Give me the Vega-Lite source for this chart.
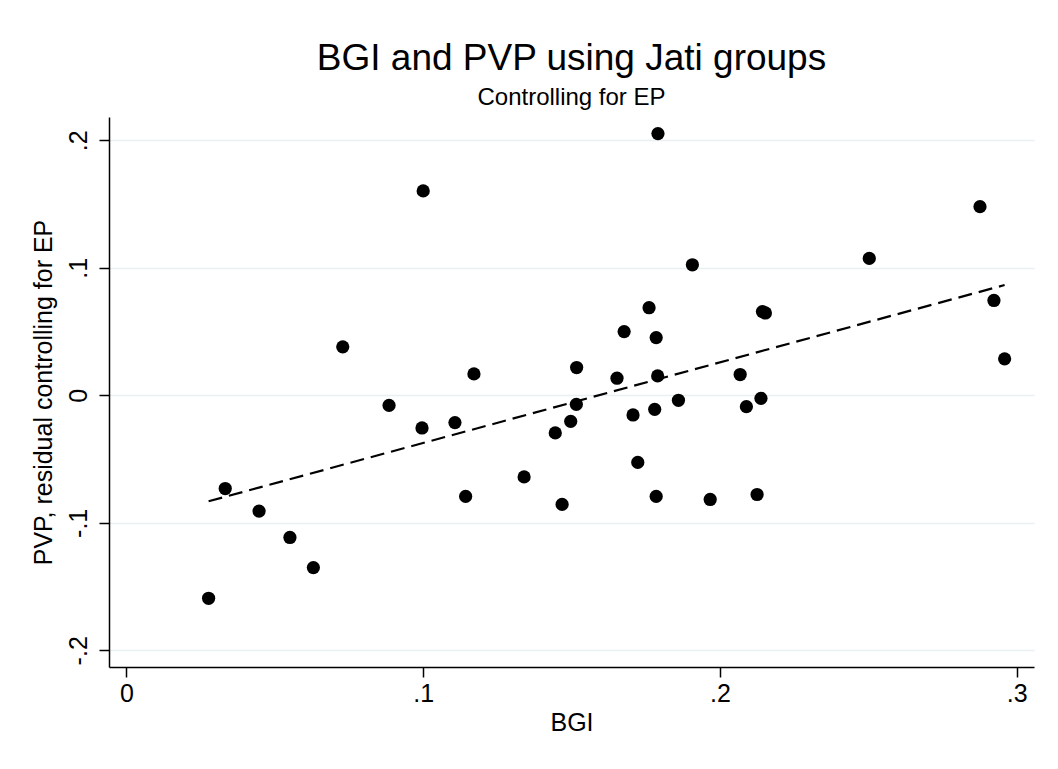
{
  "$schema": "https://vega.github.io/schema/vega-lite/v6.json",
  "width": 925,
  "height": 550,
  "autosize": {"type": "none"},
  "padding": {"left": 109, "top": 117, "right": 24, "bottom": 102},
  "background": "white",
  "config": {"font": "Liberation Sans", "view": {"stroke": null}},
  "title": {
    "text": "BGI and PVP using Jati groups",
    "subtitle": "Controlling for EP",
    "fontSize": 37,
    "fontWeight": "normal",
    "subtitleFontSize": 24,
    "color": "black",
    "subtitleColor": "black",
    "anchor": "middle",
    "offset": 6,
    "subtitlePadding": 8,
    "font": "Liberation Sans",
    "subtitleFont": "Liberation Sans"
  },
  "data": {
    "values": [
      {"bgi": 0.0277, "pvp": -0.1592},
      {"bgi": 0.0333, "pvp": -0.0731},
      {"bgi": 0.0447, "pvp": -0.0908},
      {"bgi": 0.0551, "pvp": -0.1115},
      {"bgi": 0.0630, "pvp": -0.1351},
      {"bgi": 0.0729, "pvp": 0.0380},
      {"bgi": 0.0885, "pvp": -0.0079},
      {"bgi": 0.0996, "pvp": -0.0256},
      {"bgi": 0.1000, "pvp": 0.1603},
      {"bgi": 0.1107, "pvp": -0.0214},
      {"bgi": 0.1143, "pvp": -0.0793},
      {"bgi": 0.1171, "pvp": 0.0168},
      {"bgi": 0.1340, "pvp": -0.0640},
      {"bgi": 0.1445, "pvp": -0.0295},
      {"bgi": 0.1468, "pvp": -0.0856},
      {"bgi": 0.1497, "pvp": -0.0204},
      {"bgi": 0.1516, "pvp": -0.0071},
      {"bgi": 0.1517, "pvp": 0.0218},
      {"bgi": 0.1653, "pvp": 0.0134},
      {"bgi": 0.1677, "pvp": 0.0500},
      {"bgi": 0.1707, "pvp": -0.0154},
      {"bgi": 0.1723, "pvp": -0.0526},
      {"bgi": 0.1761, "pvp": 0.0687},
      {"bgi": 0.1780, "pvp": -0.0110},
      {"bgi": 0.1785, "pvp": 0.0453},
      {"bgi": 0.1785, "pvp": -0.0793},
      {"bgi": 0.1790, "pvp": 0.0152},
      {"bgi": 0.1791, "pvp": 0.2053},
      {"bgi": 0.1860, "pvp": -0.0039},
      {"bgi": 0.1907, "pvp": 0.1024},
      {"bgi": 0.1967, "pvp": -0.0817},
      {"bgi": 0.2068, "pvp": 0.0163},
      {"bgi": 0.2089, "pvp": -0.0089},
      {"bgi": 0.2125, "pvp": -0.0778},
      {"bgi": 0.2138, "pvp": -0.0024},
      {"bgi": 0.2143, "pvp": 0.0657},
      {"bgi": 0.2153, "pvp": 0.0646},
      {"bgi": 0.2503, "pvp": 0.1074},
      {"bgi": 0.2876, "pvp": 0.1480},
      {"bgi": 0.2923, "pvp": 0.0744},
      {"bgi": 0.2959, "pvp": 0.0286}
    ]
  },
  "layer": [
    {
      "mark": {"type": "circle", "size": 175, "color": "black", "opacity": 1},
      "encoding": {
        "x": {
          "field": "bgi",
          "type": "quantitative",
          "title": "BGI",
          "scale": {"domain": [-0.00586, 0.3058], "nice": false, "zero": false},
          "axis": {
            "values": [0, 0.1, 0.2, 0.3],
            "labelExpr": "datum.value == 0 ? '0' : '.' + round(datum.value * 10)",
            "grid": false,
            "domainColor": "black",
            "domainWidth": 1.5,
            "tickColor": "black",
            "tickWidth": 1.5,
            "tickSize": 10,
            "labelFontSize": 25,
            "labelColor": "black",
            "labelPadding": 4,
            "labelFlush": false,
            "labelFont": "Liberation Sans",
            "titleFont": "Liberation Sans",
            "titleFontSize": 25,
            "titleFontWeight": "normal",
            "titleColor": "black",
            "titlePadding": 4
          }
        },
        "y": {
          "field": "pvp",
          "type": "quantitative",
          "title": "PVP, residual controlling for EP",
          "scale": {"domain": [-0.2131, 0.2183], "nice": false, "zero": false},
          "axis": {
            "values": [-0.2, -0.1, 0, 0.1, 0.2],
            "labelExpr": "datum.value == 0 ? '0' : (datum.value < 0 ? '-' : '') + '.' + round(abs(datum.value) * 10)",
            "grid": true,
            "gridColor": "#e8f0f2",
            "gridWidth": 1.5,
            "domainColor": "black",
            "domainWidth": 1.5,
            "tickColor": "black",
            "tickWidth": 1.5,
            "tickSize": 10,
            "labelAngle": -90,
            "labelFontSize": 25,
            "labelColor": "black",
            "labelPadding": 8,
            "labelFlush": false,
            "labelFont": "Liberation Sans",
            "titleFont": "Liberation Sans",
            "titleFontSize": 25,
            "titleFontWeight": "normal",
            "titleColor": "black",
            "titlePadding": 10
          }
        }
      }
    },
    {
      "transform": [{"regression": "pvp", "on": "bgi"}],
      "mark": {"type": "line", "color": "black", "strokeWidth": 2.2, "strokeDash": [14, 7]},
      "encoding": {
        "x": {"field": "bgi", "type": "quantitative"},
        "y": {"field": "pvp", "type": "quantitative"}
      }
    }
  ]
}
